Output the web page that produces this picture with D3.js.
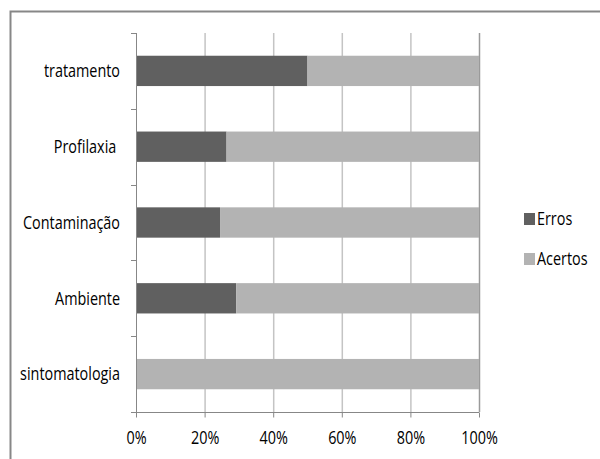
<!DOCTYPE html>
<html>
<head>
<meta charset="utf-8">
<script src="https://cdn.jsdelivr.net/npm/d3@7"></script>
<style>
  body { margin: 0; background: #fff; }
  text { font-family: "Open Sans", sans-serif; fill: #000; }
</style>
</head>
<body>
<div id="chart"></div>
<script>
// categories top to bottom
const categories = ['tratamento', 'Profilaxia ', 'Contaminação', 'Ambiente', 'sintomatologia'];
// share of answers per category (%)
const erros = [50, 26.4, 24.5, 29.2, 0];
const acertos = [50, 73.6, 75.5, 70.8, 100];
const seriesNames = ['Erros', 'Acertos'];
const seriesColors = ['#606060', '#b3b3b3'];
const xTicks = [0, 20, 40, 60, 80, 100];

const width = 600, height = 459;
const margin = {top: 33, left: 136, right: 121, bottom: 47};
const fontSize = '18px';
const squeeze = 0.8; // narrow the text like the condensed original face

const svg = d3.select('#chart')
  .append('svg')
    .attr('width', width)
    .attr('height', height);

// outer frame (cut off at right and bottom like the original)
svg.append('path')
  .attr('d', 'M10.5,' + height + 'V11.5H' + width)
  .attr('fill', 'none')
  .attr('stroke', '#878787')
  .attr('stroke-width', 2);

const rows = categories.map((c, i) => ({cat: c, erros: erros[i], acertos: acertos[i]}));
const stack = d3.stack().keys(['erros', 'acertos'])(rows);

const x = d3.scaleLinear()
  .domain([0, 100])
  .range([margin.left, width - margin.right]);

const y = d3.scaleBand()
  .domain(categories)
  .range([margin.top, height - margin.bottom])
  .paddingInner(0.6)
  .paddingOuter(0.3);

const bandStep = (height - margin.bottom - margin.top) / categories.length;

// vertical gridlines
svg.append('g')
  .selectAll('line')
  .data(xTicks.slice(1))
  .enter().append('line')
    .attr('x1', d => x(d) + 0.5)
    .attr('x2', d => x(d) + 0.5)
    .attr('y1', margin.top)
    .attr('y2', height - margin.bottom)
    .attr('stroke', d => d === 100 ? '#9a9a9a' : '#c4c4c4')
    .attr('stroke-width', 1.5);

// bars
svg.append('g')
  .selectAll('g')
  .data(stack)
  .enter().append('g')
    .attr('fill', (d, i) => seriesColors[i])
  .selectAll('rect')
  .data(d => d)
  .enter().append('rect')
    .attr('x', d => x(d[0]))
    .attr('y', d => y(d.data.cat))
    .attr('width', d => x(d[1]) - x(d[0]))
    .attr('height', y.bandwidth());

// y axis line + ticks between categories
const yAxis = svg.append('g');
yAxis.append('line')
  .attr('x1', margin.left + 0.5).attr('x2', margin.left + 0.5)
  .attr('y1', margin.top).attr('y2', height - margin.bottom)
  .attr('stroke', '#878787');
yAxis.selectAll('.tick')
  .data(d3.range(categories.length + 1))
  .enter().append('line')
    .attr('x1', margin.left - 5).attr('x2', margin.left)
    .attr('y1', d => Math.round(margin.top + d * bandStep) + 0.5)
    .attr('y2', d => Math.round(margin.top + d * bandStep) + 0.5)
    .attr('stroke', '#878787');

// category labels
svg.append('g')
  .selectAll('text')
  .data(categories)
  .enter().append('text')
    .attr('transform', d => 'translate(' + (margin.left - 16) + ',' + (y(d) + y.bandwidth() / 2) + ') scale(' + squeeze + ',1)')
    .attr('dy', '0.35em')
    .attr('text-anchor', 'end')
    .style('white-space', 'pre')
    .style('font-size', fontSize)
    .text(d => d);

// x axis
const xAxis = svg.append('g')
  .attr('transform', 'translate(0,' + (height - margin.bottom + 0.5) + ')')
  .call(d3.axisBottom(x)
    .tickValues(xTicks)
    .tickSize(5)
    .tickPadding(14)
    .tickFormat(d => d + '%'));
xAxis.select('.domain').attr('stroke', '#878787').attr('d', 'M' + (margin.left - 5) + ',0H' + (width - margin.right));
xAxis.selectAll('.tick line').attr('stroke', '#878787');
xAxis.selectAll('.tick text')
  .attr('transform', 'scale(' + squeeze + ',1)')
  .style('font-size', fontSize)
  .style('font-family', '"Open Sans", sans-serif')
  .attr('fill', '#000');

// legend
const legend = svg.append('g')
  .selectAll('g')
  .data(seriesNames)
  .enter().append('g')
    .attr('transform', (d, i) => 'translate(524,' + (213 + i * 40) + ')');
legend.append('rect')
  .attr('width', 11)
  .attr('height', 12)
  .attr('fill', (d, i) => seriesColors[i]);
legend.append('text')
  .attr('transform', 'translate(13,6) scale(' + squeeze + ',1)')
  .attr('dy', '0.35em')
  .style('font-size', fontSize)
  .text(d => d);
</script>
</body>
</html>
